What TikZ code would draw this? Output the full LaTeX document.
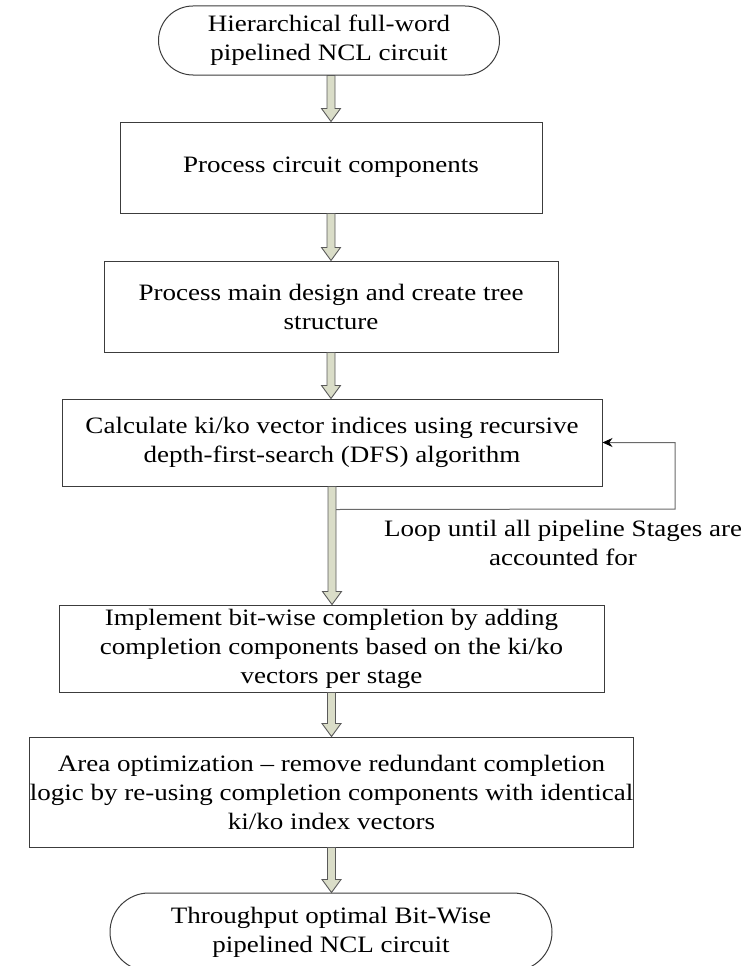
\documentclass[tikz,border=0pt]{standalone}
\usepackage{fontspec}
\setmainfont[FakeStretch=1.15]{Liberation Serif}
\usetikzlibrary{calc,shapes.misc,arrows.meta}
\definecolor{boxline}{HTML}{3C3C3C}
\definecolor{arrowfill}{RGB}{218,221,200}
\definecolor{arrowline}{HTML}{5A5A5A}
\definecolor{loopline}{HTML}{6A6A6A}
\begin{document}
\begin{tikzpicture}[x=1pt,y=-1pt,
  every node/.style={font=\fontsize{23.5}{29}\selectfont, align=center, inner sep=0pt},
  stepbox/.style n args={2}{draw=boxline, line width=1pt, rectangle,
    minimum width=#1, minimum height=#2},
  terminal/.style n args={2}{draw=boxline, line width=1pt, rounded rectangle,
    minimum width=#1, minimum height=#2},
  flowarrow/.style={fill=arrowfill, draw=arrowline, line width=0.9pt, line join=miter,
    to path={let \p1=(\tikztostart), \p2=(\tikztotarget) in
      (\x1-4pt,\y1) -- (\x1-4pt,\y2+13pt) -- (\x1-9.5pt,\y2+13pt) -- (\x1,\y2)
      -- (\x1+9.5pt,\y2+13pt) -- (\x1+4pt,\y2+13pt) -- (\x1+4pt,\y1) -- cycle}},
  loopback/.style={draw=loopline, line width=1pt,
    -{Stealth[length=10pt,width=9pt,color=black]}}
]
\useasboundingbox (0,0) rectangle (741,966);

% process steps
\node[terminal={341pt}{69pt}] (t0) at (329,40.5) {Hierarchical full-word\\pipelined NCL circuit};
\node[stepbox={422pt}{91pt}] (b1) at (331,167.5) {Process circuit components};
\node[stepbox={454pt}{91pt}] (b2) at (331,306.5) {Process main design and create tree\\structure};
\node[stepbox={540pt}{87pt}] (b3) at (332,442.5) {Calculate ki/ko vector indices using recursive\\depth-first-search (DFS) algorithm};
\node[stepbox={545pt}{87pt}] (b4) at (331.5,648.5) {Implement bit-wise completion by adding\\completion components based on the ki/ko\\vectors per stage};
\node[stepbox={587pt}{110pt}] (b5) at (331.5,792) {Area optimization -- remove redundant completion\\logic by re-using completion components with identical\\ki/ko index vectors};
\node[terminal={442pt}{78pt}] (t1) at (331,932) {Throughput optimal Bit-Wise\\pipelined NCL circuit};

% flow arrows
\draw[flowarrow] (b1.north |- t0.south) to (b1.north);
\draw[flowarrow] (b1.south) to (b2.north);
\draw[flowarrow] (b2.south) to (b3.north);
\draw[flowarrow] (b3.south) to (b4.north);
\draw[flowarrow] (b4.south) to (b5.north);
\draw[flowarrow] (b5.south) to (t1.north);

% loop back to the DFS step
\coordinate (loopstart) at ($(b3.south)+(4,23)$);
\coordinate (loopcorner) at (675,509);
\draw[loopback] (loopstart) -- (loopcorner) |- (b3.east);
\node (looplabel) at (563,543) {Loop until all pipeline Stages are\\accounted for};
\end{tikzpicture}
\end{document}
